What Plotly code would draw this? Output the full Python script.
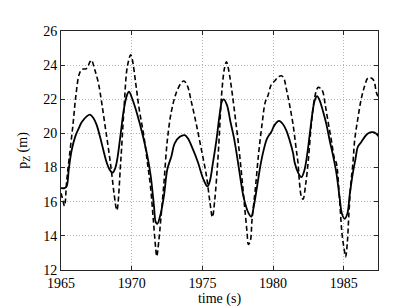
import plotly.graph_objects as go

solid_t = [1965.00, 1965.25, 1965.40, 1965.55, 1965.75, 1966.00, 1966.23, 1966.46, 1966.82, 1967.05,
           1967.29, 1967.52, 1967.76, 1967.99, 1968.23, 1968.46, 1968.65, 1968.85, 1969.00, 1969.22,
           1969.46, 1969.69, 1969.81, 1970.05, 1970.40, 1970.75, 1971.11, 1971.34, 1971.58, 1971.70,
           1971.81, 1972.05, 1972.29, 1972.52, 1972.81, 1973.04, 1973.40, 1973.75, 1973.98, 1974.34,
           1974.69, 1975.05, 1975.35, 1975.52, 1975.75, 1975.99, 1976.22, 1976.39, 1976.51, 1976.74,
           1976.98, 1977.22, 1977.45, 1977.69, 1977.92, 1978.28, 1978.46, 1978.63, 1978.87, 1979.10,
           1979.34, 1979.57, 1979.88, 1980.11, 1980.42, 1980.70, 1980.94, 1981.17, 1981.41, 1981.53,
           1981.76, 1982.00, 1982.20, 1982.40, 1982.60, 1982.80, 1982.95, 1983.11, 1983.29, 1983.53,
           1983.77, 1984.00, 1984.24, 1984.47, 1984.71, 1984.87, 1985.06, 1985.25, 1985.42, 1985.65,
           1985.82, 1986.00, 1986.24, 1986.48, 1986.71, 1987.07, 1987.30, 1987.44]
solid_v = [16.80, 16.80, 16.90, 17.90, 19.00, 19.80, 20.25, 20.65, 21.00, 21.10,
           20.90, 20.50, 19.80, 19.05, 18.30, 17.85, 17.70, 18.00, 18.60, 19.98,
           21.48, 22.30, 22.45, 22.00, 21.10, 20.00, 18.67, 17.55, 15.70, 14.80,
           14.70, 15.30, 16.40, 17.90, 18.67, 19.42, 19.80, 19.90, 19.70, 19.05,
           18.30, 17.36, 16.90, 17.18, 18.30, 19.60, 21.10, 21.90, 22.00, 21.66,
           20.70, 19.80, 18.67, 17.36, 16.24, 15.30, 15.12, 15.70, 16.90, 18.10,
           19.05, 19.70, 20.10, 20.50, 20.73, 20.54, 20.17, 19.60, 18.86, 18.28,
           17.72, 17.44, 17.80, 18.70, 20.00, 21.30, 21.95, 22.19, 21.94, 21.30,
           20.54, 19.60, 18.70, 17.72, 16.22, 15.29, 15.00, 15.29, 16.41, 17.72,
           18.47, 19.23, 19.50, 19.80, 20.00, 20.07, 19.98, 19.83]

dashed_t = [1965.00, 1965.10, 1965.25, 1965.40, 1965.60, 1965.85, 1966.05, 1966.30, 1966.50, 1966.80,
            1967.05, 1967.15, 1967.40, 1967.64, 1967.87, 1968.10, 1968.34, 1968.58, 1968.75, 1968.95,
            1969.22, 1969.46, 1969.69, 1969.93, 1970.05, 1970.28, 1970.52, 1970.87, 1971.11, 1971.34,
            1971.53, 1971.70, 1971.77, 1971.93, 1972.05, 1972.29, 1972.52, 1972.81, 1973.16, 1973.51,
            1973.70, 1973.94, 1974.22, 1974.57, 1974.93, 1975.28, 1975.52, 1975.71, 1975.87, 1976.11,
            1976.39, 1976.58, 1976.70, 1976.86, 1977.10, 1977.33, 1977.57, 1977.80, 1977.99, 1978.16,
            1978.25, 1978.39, 1978.51, 1978.75, 1978.98, 1979.22, 1979.45, 1979.64, 1979.88, 1980.11,
            1980.35, 1980.58, 1980.75, 1980.94, 1981.17, 1981.41, 1981.64, 1981.76, 1981.88, 1982.00,
            1982.12, 1982.30, 1982.50, 1982.70, 1982.90, 1983.10, 1983.20, 1983.41, 1983.53, 1983.69,
            1983.88, 1984.12, 1984.35, 1984.47, 1984.71, 1984.87, 1985.06, 1985.13, 1985.25, 1985.35,
            1985.49, 1985.65, 1985.77, 1986.00, 1986.24, 1986.48, 1986.71, 1986.95, 1987.14, 1987.30,
            1987.44]
dashed_v = [16.50, 16.20, 15.75, 17.20, 18.70, 20.54, 22.20, 23.50, 23.76, 23.80,
            24.20, 24.30, 23.70, 22.97, 21.85, 20.54, 19.20, 17.70, 16.50, 15.50,
            18.30, 21.50, 23.90, 24.60, 24.30, 22.97, 21.48, 19.80, 18.30, 16.80,
            14.93, 13.25, 12.80, 13.80, 14.90, 17.20, 19.60, 21.30, 22.40, 22.97,
            23.07, 22.79, 21.85, 20.54, 19.05, 17.55, 16.06, 15.10, 16.06, 18.67,
            22.60, 23.90, 24.20, 23.70, 22.40, 20.90, 19.23, 17.36, 15.67, 14.20,
            13.50, 13.70, 14.93, 16.80, 18.86, 20.54, 21.85, 22.22, 22.88, 23.07,
            23.30, 23.38, 23.25, 22.60, 21.66, 20.54, 19.05, 18.30, 17.00, 16.30,
            16.15, 17.00, 18.50, 20.50, 21.90, 22.60, 22.70, 22.60, 22.41, 21.66,
            20.73, 19.60, 18.50, 18.28, 16.04, 14.17, 13.05, 12.77, 13.60, 15.10,
            16.97, 18.28, 19.60, 20.90, 22.04, 22.79, 23.25, 23.25, 23.07, 22.41,
            22.13]

x_ticks = [1965, 1970, 1975, 1980, 1985]
y_ticks = [12, 14, 16, 18, 20, 22, 24, 26]

serif = "Times New Roman, Liberation Serif, serif"

fig = go.Figure()
fig.add_trace(go.Scatter(x=dashed_t, y=dashed_v, mode="lines",
                         line=dict(color="black", width=1.6, dash="5px,3px"),
                         line_shape="spline", showlegend=False))
fig.add_trace(go.Scatter(x=solid_t, y=solid_v, mode="lines",
                         line=dict(color="black", width=1.8),
                         line_shape="spline", showlegend=False))

axis_common = dict(showline=True, linecolor="#262626", linewidth=1, mirror="ticks",
                   ticks="inside", ticklen=4, tickcolor="#262626",
                   showgrid=True, gridcolor="#b4b4b4", griddash="1px,2px", gridwidth=1,
                   zeroline=False, tickfont=dict(family=serif, size=14, color="black"))

fig.update_xaxes(range=[1965, 1987.42], tickvals=x_ticks,
                 title=dict(text="time (s)", font=dict(family=serif, size=14, color="black"),
                            standoff=1),
                 **axis_common)
fig.update_yaxes(range=[12, 26], tickvals=y_ticks,
                 title=dict(text="p<sub>Z</sub> (m)", font=dict(family=serif, size=14, color="black"),
                            standoff=12),
                 **axis_common)

fig.update_layout(width=409, height=306, margin=dict(l=53, r=39, t=23, b=34),
                  plot_bgcolor="white", paper_bgcolor="white")

fig.write_html("out.html")
